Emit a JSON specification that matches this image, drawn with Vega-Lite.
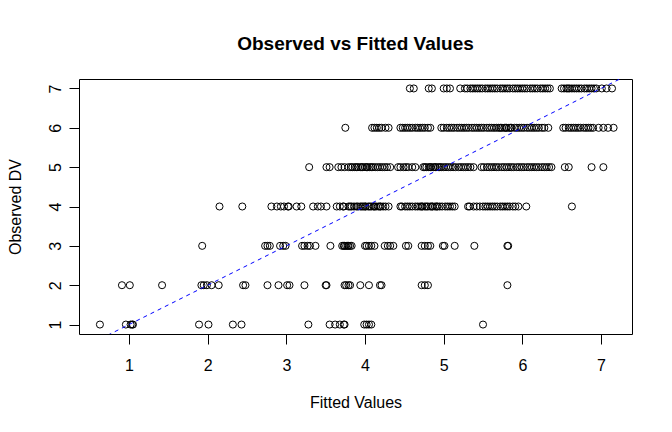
{
  "$schema": "https://vega.github.io/schema/vega-lite/v6.json",
  "width": 553,
  "height": 255,
  "autosize": {"type": "none"},
  "padding": {"left": 79, "top": 79, "right": 40, "bottom": 98},
  "background": "white",
  "title": {"text": "Observed vs Fitted Values", "font": "Liberation Sans", "fontSize": 19, "fontWeight": "bold", "color": "black", "anchor": "middle", "baseline": "alphabetic", "offset": 10},
  "config": {
    "view": {"stroke": "black", "strokeWidth": 1},
    "axis": {"domain": false, "grid": false, "ticks": true, "tickColor": "black", "tickSize": 10, "tickWidth": 1, "labelColor": "black", "labelFont": "Liberation Sans", "labelFontSize": 16, "titleColor": "black", "titleFont": "Liberation Sans", "titleFontSize": 16, "titleFontWeight": "normal", "format": "d"}
  },
  "datasets": {
    "obs": [
      {"Fitted":0.63,"Observed":1},{"Fitted":0.96,"Observed":1},{"Fitted":1.02,"Observed":1},{"Fitted":1.04,"Observed":1},{"Fitted":1.05,"Observed":1},{"Fitted":1.89,"Observed":1},{"Fitted":2.01,"Observed":1},{"Fitted":2.32,"Observed":1},{"Fitted":2.43,"Observed":1},{"Fitted":3.28,"Observed":1},{"Fitted":3.55,"Observed":1},{"Fitted":3.62,"Observed":1},{"Fitted":3.68,"Observed":1},{"Fitted":3.73,"Observed":1},{"Fitted":3.74,"Observed":1},{"Fitted":3.99,"Observed":1},{"Fitted":4.02,"Observed":1},{"Fitted":4.05,"Observed":1},{"Fitted":4.08,"Observed":1},{"Fitted":5.5,"Observed":1},
      {"Fitted":0.91,"Observed":2},{"Fitted":1.01,"Observed":2},{"Fitted":1.42,"Observed":2},{"Fitted":1.92,"Observed":2},{"Fitted":1.95,"Observed":2},{"Fitted":1.99,"Observed":2},{"Fitted":2.05,"Observed":2},{"Fitted":2.14,"Observed":2},{"Fitted":2.45,"Observed":2},{"Fitted":2.48,"Observed":2},{"Fitted":2.76,"Observed":2},{"Fitted":2.9,"Observed":2},{"Fitted":3.01,"Observed":2},{"Fitted":3.04,"Observed":2},{"Fitted":3.23,"Observed":2},{"Fitted":3.5,"Observed":2},{"Fitted":3.51,"Observed":2},{"Fitted":3.74,"Observed":2},{"Fitted":3.76,"Observed":2},{"Fitted":3.79,"Observed":2},{"Fitted":3.81,"Observed":2},{"Fitted":3.94,"Observed":2},{"Fitted":4.05,"Observed":2},{"Fitted":4.19,"Observed":2},{"Fitted":4.21,"Observed":2},{"Fitted":4.72,"Observed":2},{"Fitted":4.76,"Observed":2},{"Fitted":4.8,"Observed":2},{"Fitted":5.81,"Observed":2},
      {"Fitted":1.93,"Observed":3},{"Fitted":2.73,"Observed":3},{"Fitted":2.76,"Observed":3},{"Fitted":2.79,"Observed":3},{"Fitted":2.92,"Observed":3},{"Fitted":2.96,"Observed":3},{"Fitted":2.99,"Observed":3},{"Fitted":3.2,"Observed":3},{"Fitted":3.23,"Observed":3},{"Fitted":3.27,"Observed":3},{"Fitted":3.3,"Observed":3},{"Fitted":3.37,"Observed":3},{"Fitted":3.56,"Observed":3},{"Fitted":3.71,"Observed":3},{"Fitted":3.73,"Observed":3},{"Fitted":3.74,"Observed":3},{"Fitted":3.76,"Observed":3},{"Fitted":3.78,"Observed":3},{"Fitted":3.79,"Observed":3},{"Fitted":3.81,"Observed":3},{"Fitted":3.83,"Observed":3},{"Fitted":4.0,"Observed":3},{"Fitted":4.02,"Observed":3},{"Fitted":4.05,"Observed":3},{"Fitted":4.08,"Observed":3},{"Fitted":4.12,"Observed":3},{"Fitted":4.25,"Observed":3},{"Fitted":4.29,"Observed":3},{"Fitted":4.32,"Observed":3},{"Fitted":4.36,"Observed":3},{"Fitted":4.52,"Observed":3},{"Fitted":4.55,"Observed":3},{"Fitted":4.72,"Observed":3},{"Fitted":4.76,"Observed":3},{"Fitted":4.8,"Observed":3},{"Fitted":4.83,"Observed":3},{"Fitted":4.99,"Observed":3},{"Fitted":5.01,"Observed":3},{"Fitted":5.14,"Observed":3},{"Fitted":5.39,"Observed":3},{"Fitted":5.81,"Observed":3},{"Fitted":5.82,"Observed":3},
      {"Fitted":2.15,"Observed":4},{"Fitted":2.44,"Observed":4},{"Fitted":2.81,"Observed":4},{"Fitted":2.88,"Observed":4},{"Fitted":2.93,"Observed":4},{"Fitted":2.97,"Observed":4},{"Fitted":3.02,"Observed":4},{"Fitted":3.03,"Observed":4},{"Fitted":3.13,"Observed":4},{"Fitted":3.19,"Observed":4},{"Fitted":3.34,"Observed":4},{"Fitted":3.4,"Observed":4},{"Fitted":3.44,"Observed":4},{"Fitted":3.51,"Observed":4},{"Fitted":3.64,"Observed":4},{"Fitted":3.68,"Observed":4},{"Fitted":3.72,"Observed":4},{"Fitted":3.73,"Observed":4},{"Fitted":3.79,"Observed":4},{"Fitted":3.81,"Observed":4},{"Fitted":3.83,"Observed":4},{"Fitted":3.86,"Observed":4},{"Fitted":3.89,"Observed":4},{"Fitted":3.91,"Observed":4},{"Fitted":3.94,"Observed":4},{"Fitted":3.96,"Observed":4},{"Fitted":3.98,"Observed":4},{"Fitted":4.0,"Observed":4},{"Fitted":4.01,"Observed":4},{"Fitted":4.04,"Observed":4},{"Fitted":4.06,"Observed":4},{"Fitted":4.08,"Observed":4},{"Fitted":4.11,"Observed":4},{"Fitted":4.12,"Observed":4},{"Fitted":4.14,"Observed":4},{"Fitted":4.17,"Observed":4},{"Fitted":4.19,"Observed":4},{"Fitted":4.2,"Observed":4},{"Fitted":4.23,"Observed":4},{"Fitted":4.26,"Observed":4},{"Fitted":4.3,"Observed":4},{"Fitted":4.45,"Observed":4},{"Fitted":4.47,"Observed":4},{"Fitted":4.51,"Observed":4},{"Fitted":4.54,"Observed":4},{"Fitted":4.57,"Observed":4},{"Fitted":4.6,"Observed":4},{"Fitted":4.64,"Observed":4},{"Fitted":4.67,"Observed":4},{"Fitted":4.7,"Observed":4},{"Fitted":4.72,"Observed":4},{"Fitted":4.73,"Observed":4},{"Fitted":4.76,"Observed":4},{"Fitted":4.78,"Observed":4},{"Fitted":4.8,"Observed":4},{"Fitted":4.83,"Observed":4},{"Fitted":4.85,"Observed":4},{"Fitted":4.86,"Observed":4},{"Fitted":4.89,"Observed":4},{"Fitted":4.91,"Observed":4},{"Fitted":4.92,"Observed":4},{"Fitted":4.95,"Observed":4},{"Fitted":4.98,"Observed":4},{"Fitted":5.02,"Observed":4},{"Fitted":5.05,"Observed":4},{"Fitted":5.08,"Observed":4},{"Fitted":5.11,"Observed":4},{"Fitted":5.14,"Observed":4},{"Fitted":5.31,"Observed":4},{"Fitted":5.33,"Observed":4},{"Fitted":5.38,"Observed":4},{"Fitted":5.42,"Observed":4},{"Fitted":5.46,"Observed":4},{"Fitted":5.5,"Observed":4},{"Fitted":5.53,"Observed":4},{"Fitted":5.56,"Observed":4},{"Fitted":5.59,"Observed":4},{"Fitted":5.62,"Observed":4},{"Fitted":5.65,"Observed":4},{"Fitted":5.68,"Observed":4},{"Fitted":5.72,"Observed":4},{"Fitted":5.75,"Observed":4},{"Fitted":5.78,"Observed":4},{"Fitted":5.81,"Observed":4},{"Fitted":5.84,"Observed":4},{"Fitted":5.88,"Observed":4},{"Fitted":5.91,"Observed":4},{"Fitted":5.95,"Observed":4},{"Fitted":6.05,"Observed":4},{"Fitted":6.63,"Observed":4},
      {"Fitted":3.29,"Observed":5},{"Fitted":3.51,"Observed":5},{"Fitted":3.55,"Observed":5},{"Fitted":3.66,"Observed":5},{"Fitted":3.7,"Observed":5},{"Fitted":3.74,"Observed":5},{"Fitted":3.79,"Observed":5},{"Fitted":3.82,"Observed":5},{"Fitted":3.84,"Observed":5},{"Fitted":3.87,"Observed":5},{"Fitted":3.89,"Observed":5},{"Fitted":3.91,"Observed":5},{"Fitted":3.94,"Observed":5},{"Fitted":3.96,"Observed":5},{"Fitted":3.97,"Observed":5},{"Fitted":4.0,"Observed":5},{"Fitted":4.02,"Observed":5},{"Fitted":4.03,"Observed":5},{"Fitted":4.06,"Observed":5},{"Fitted":4.08,"Observed":5},{"Fitted":4.1,"Observed":5},{"Fitted":4.13,"Observed":5},{"Fitted":4.16,"Observed":5},{"Fitted":4.19,"Observed":5},{"Fitted":4.22,"Observed":5},{"Fitted":4.25,"Observed":5},{"Fitted":4.28,"Observed":5},{"Fitted":4.32,"Observed":5},{"Fitted":4.42,"Observed":5},{"Fitted":4.45,"Observed":5},{"Fitted":4.49,"Observed":5},{"Fitted":4.52,"Observed":5},{"Fitted":4.55,"Observed":5},{"Fitted":4.6,"Observed":5},{"Fitted":4.64,"Observed":5},{"Fitted":4.74,"Observed":5},{"Fitted":4.76,"Observed":5},{"Fitted":4.78,"Observed":5},{"Fitted":4.81,"Observed":5},{"Fitted":4.83,"Observed":5},{"Fitted":4.84,"Observed":5},{"Fitted":4.87,"Observed":5},{"Fitted":4.89,"Observed":5},{"Fitted":4.9,"Observed":5},{"Fitted":4.93,"Observed":5},{"Fitted":4.95,"Observed":5},{"Fitted":4.97,"Observed":5},{"Fitted":5.0,"Observed":5},{"Fitted":5.03,"Observed":5},{"Fitted":5.06,"Observed":5},{"Fitted":5.09,"Observed":5},{"Fitted":5.12,"Observed":5},{"Fitted":5.15,"Observed":5},{"Fitted":5.19,"Observed":5},{"Fitted":5.22,"Observed":5},{"Fitted":5.25,"Observed":5},{"Fitted":5.28,"Observed":5},{"Fitted":5.31,"Observed":5},{"Fitted":5.34,"Observed":5},{"Fitted":5.38,"Observed":5},{"Fitted":5.48,"Observed":5},{"Fitted":5.51,"Observed":5},{"Fitted":5.55,"Observed":5},{"Fitted":5.58,"Observed":5},{"Fitted":5.61,"Observed":5},{"Fitted":5.64,"Observed":5},{"Fitted":5.67,"Observed":5},{"Fitted":5.7,"Observed":5},{"Fitted":5.74,"Observed":5},{"Fitted":5.77,"Observed":5},{"Fitted":5.8,"Observed":5},{"Fitted":5.83,"Observed":5},{"Fitted":5.86,"Observed":5},{"Fitted":5.89,"Observed":5},{"Fitted":5.93,"Observed":5},{"Fitted":5.96,"Observed":5},{"Fitted":5.99,"Observed":5},{"Fitted":6.02,"Observed":5},{"Fitted":6.06,"Observed":5},{"Fitted":6.09,"Observed":5},{"Fitted":6.12,"Observed":5},{"Fitted":6.15,"Observed":5},{"Fitted":6.18,"Observed":5},{"Fitted":6.21,"Observed":5},{"Fitted":6.25,"Observed":5},{"Fitted":6.28,"Observed":5},{"Fitted":6.31,"Observed":5},{"Fitted":6.34,"Observed":5},{"Fitted":6.37,"Observed":5},{"Fitted":6.54,"Observed":5},{"Fitted":6.59,"Observed":5},{"Fitted":6.88,"Observed":5},{"Fitted":7.03,"Observed":5},
      {"Fitted":3.75,"Observed":6},{"Fitted":4.09,"Observed":6},{"Fitted":4.12,"Observed":6},{"Fitted":4.15,"Observed":6},{"Fitted":4.18,"Observed":6},{"Fitted":4.21,"Observed":6},{"Fitted":4.26,"Observed":6},{"Fitted":4.3,"Observed":6},{"Fitted":4.45,"Observed":6},{"Fitted":4.48,"Observed":6},{"Fitted":4.51,"Observed":6},{"Fitted":4.54,"Observed":6},{"Fitted":4.57,"Observed":6},{"Fitted":4.6,"Observed":6},{"Fitted":4.64,"Observed":6},{"Fitted":4.67,"Observed":6},{"Fitted":4.7,"Observed":6},{"Fitted":4.73,"Observed":6},{"Fitted":4.76,"Observed":6},{"Fitted":4.8,"Observed":6},{"Fitted":4.83,"Observed":6},{"Fitted":4.97,"Observed":6},{"Fitted":5.0,"Observed":6},{"Fitted":5.04,"Observed":6},{"Fitted":5.07,"Observed":6},{"Fitted":5.1,"Observed":6},{"Fitted":5.13,"Observed":6},{"Fitted":5.17,"Observed":6},{"Fitted":5.2,"Observed":6},{"Fitted":5.23,"Observed":6},{"Fitted":5.26,"Observed":6},{"Fitted":5.29,"Observed":6},{"Fitted":5.32,"Observed":6},{"Fitted":5.36,"Observed":6},{"Fitted":5.39,"Observed":6},{"Fitted":5.42,"Observed":6},{"Fitted":5.45,"Observed":6},{"Fitted":5.48,"Observed":6},{"Fitted":5.51,"Observed":6},{"Fitted":5.55,"Observed":6},{"Fitted":5.58,"Observed":6},{"Fitted":5.61,"Observed":6},{"Fitted":5.64,"Observed":6},{"Fitted":5.67,"Observed":6},{"Fitted":5.7,"Observed":6},{"Fitted":5.72,"Observed":6},{"Fitted":5.74,"Observed":6},{"Fitted":5.77,"Observed":6},{"Fitted":5.79,"Observed":6},{"Fitted":5.8,"Observed":6},{"Fitted":5.83,"Observed":6},{"Fitted":5.85,"Observed":6},{"Fitted":5.86,"Observed":6},{"Fitted":5.9,"Observed":6},{"Fitted":5.93,"Observed":6},{"Fitted":5.96,"Observed":6},{"Fitted":5.99,"Observed":6},{"Fitted":6.02,"Observed":6},{"Fitted":6.06,"Observed":6},{"Fitted":6.09,"Observed":6},{"Fitted":6.12,"Observed":6},{"Fitted":6.15,"Observed":6},{"Fitted":6.18,"Observed":6},{"Fitted":6.21,"Observed":6},{"Fitted":6.25,"Observed":6},{"Fitted":6.28,"Observed":6},{"Fitted":6.33,"Observed":6},{"Fitted":6.52,"Observed":6},{"Fitted":6.55,"Observed":6},{"Fitted":6.59,"Observed":6},{"Fitted":6.62,"Observed":6},{"Fitted":6.65,"Observed":6},{"Fitted":6.68,"Observed":6},{"Fitted":6.71,"Observed":6},{"Fitted":6.74,"Observed":6},{"Fitted":6.78,"Observed":6},{"Fitted":6.81,"Observed":6},{"Fitted":6.84,"Observed":6},{"Fitted":6.87,"Observed":6},{"Fitted":6.9,"Observed":6},{"Fitted":6.97,"Observed":6},{"Fitted":7.03,"Observed":6},{"Fitted":7.09,"Observed":6},{"Fitted":7.16,"Observed":6},
      {"Fitted":4.57,"Observed":7},{"Fitted":4.62,"Observed":7},{"Fitted":4.81,"Observed":7},{"Fitted":4.85,"Observed":7},{"Fitted":5.0,"Observed":7},{"Fitted":5.04,"Observed":7},{"Fitted":5.08,"Observed":7},{"Fitted":5.21,"Observed":7},{"Fitted":5.27,"Observed":7},{"Fitted":5.3,"Observed":7},{"Fitted":5.34,"Observed":7},{"Fitted":5.37,"Observed":7},{"Fitted":5.4,"Observed":7},{"Fitted":5.43,"Observed":7},{"Fitted":5.46,"Observed":7},{"Fitted":5.49,"Observed":7},{"Fitted":5.53,"Observed":7},{"Fitted":5.56,"Observed":7},{"Fitted":5.59,"Observed":7},{"Fitted":5.62,"Observed":7},{"Fitted":5.65,"Observed":7},{"Fitted":5.68,"Observed":7},{"Fitted":5.72,"Observed":7},{"Fitted":5.75,"Observed":7},{"Fitted":5.78,"Observed":7},{"Fitted":5.81,"Observed":7},{"Fitted":5.84,"Observed":7},{"Fitted":5.88,"Observed":7},{"Fitted":5.91,"Observed":7},{"Fitted":5.94,"Observed":7},{"Fitted":5.97,"Observed":7},{"Fitted":6.0,"Observed":7},{"Fitted":6.03,"Observed":7},{"Fitted":6.06,"Observed":7},{"Fitted":6.1,"Observed":7},{"Fitted":6.13,"Observed":7},{"Fitted":6.16,"Observed":7},{"Fitted":6.19,"Observed":7},{"Fitted":6.23,"Observed":7},{"Fitted":6.26,"Observed":7},{"Fitted":6.29,"Observed":7},{"Fitted":6.32,"Observed":7},{"Fitted":6.35,"Observed":7},{"Fitted":6.5,"Observed":7},{"Fitted":6.53,"Observed":7},{"Fitted":6.56,"Observed":7},{"Fitted":6.58,"Observed":7},{"Fitted":6.6,"Observed":7},{"Fitted":6.63,"Observed":7},{"Fitted":6.66,"Observed":7},{"Fitted":6.69,"Observed":7},{"Fitted":6.72,"Observed":7},{"Fitted":6.75,"Observed":7},{"Fitted":6.79,"Observed":7},{"Fitted":6.82,"Observed":7},{"Fitted":6.85,"Observed":7},{"Fitted":6.88,"Observed":7},{"Fitted":6.91,"Observed":7},{"Fitted":6.94,"Observed":7},{"Fitted":7.01,"Observed":7},{"Fitted":7.07,"Observed":7},{"Fitted":7.14,"Observed":7}
    ],
    "identity": [{"Fitted": 0, "Observed": 0}, {"Fitted": 8, "Observed": 8}]
  },
  "layer": [
    {
      "data": {"name": "obs"},
      "mark": {"type": "point", "shape": "circle", "filled": false, "stroke": "black", "strokeWidth": 1, "size": 50, "opacity": 1},
      "encoding": {
        "x": {"field": "Fitted", "type": "quantitative", "scale": {"domain": [0.364, 7.394], "nice": false, "zero": false},
              "axis": {"values": [1,2,3,4,5,6,7], "format": "d", "title": "Fitted Values", "labelBaseline": "alphabetic", "labelPadding": 26, "titleBaseline": "alphabetic", "titleX": 276.5, "titleY": 73, "titleAnchor": "middle", "titleAlign": "center"}},
        "y": {"field": "Observed", "type": "quantitative", "scale": {"domain": [0.76, 7.24], "nice": false, "zero": false},
              "axis": {"values": [1,2,3,4,5,6,7], "format": "d", "title": "Observed DV", "labelAngle": -90, "labelAlign": "center", "labelBaseline": "alphabetic", "labelPadding": 9, "titleAngle": -90, "titleBaseline": "alphabetic", "titleAlign": "center", "titleX": -59, "titleY": 127.5}}
      }
    },
    {
      "data": {"name": "identity"},
      "mark": {"type": "line", "color": "blue", "strokeDash": [4, 4], "strokeWidth": 1, "clip": true},
      "encoding": {
        "x": {"field": "Fitted", "type": "quantitative"},
        "y": {"field": "Observed", "type": "quantitative"}
      }
    }
  ]
}
